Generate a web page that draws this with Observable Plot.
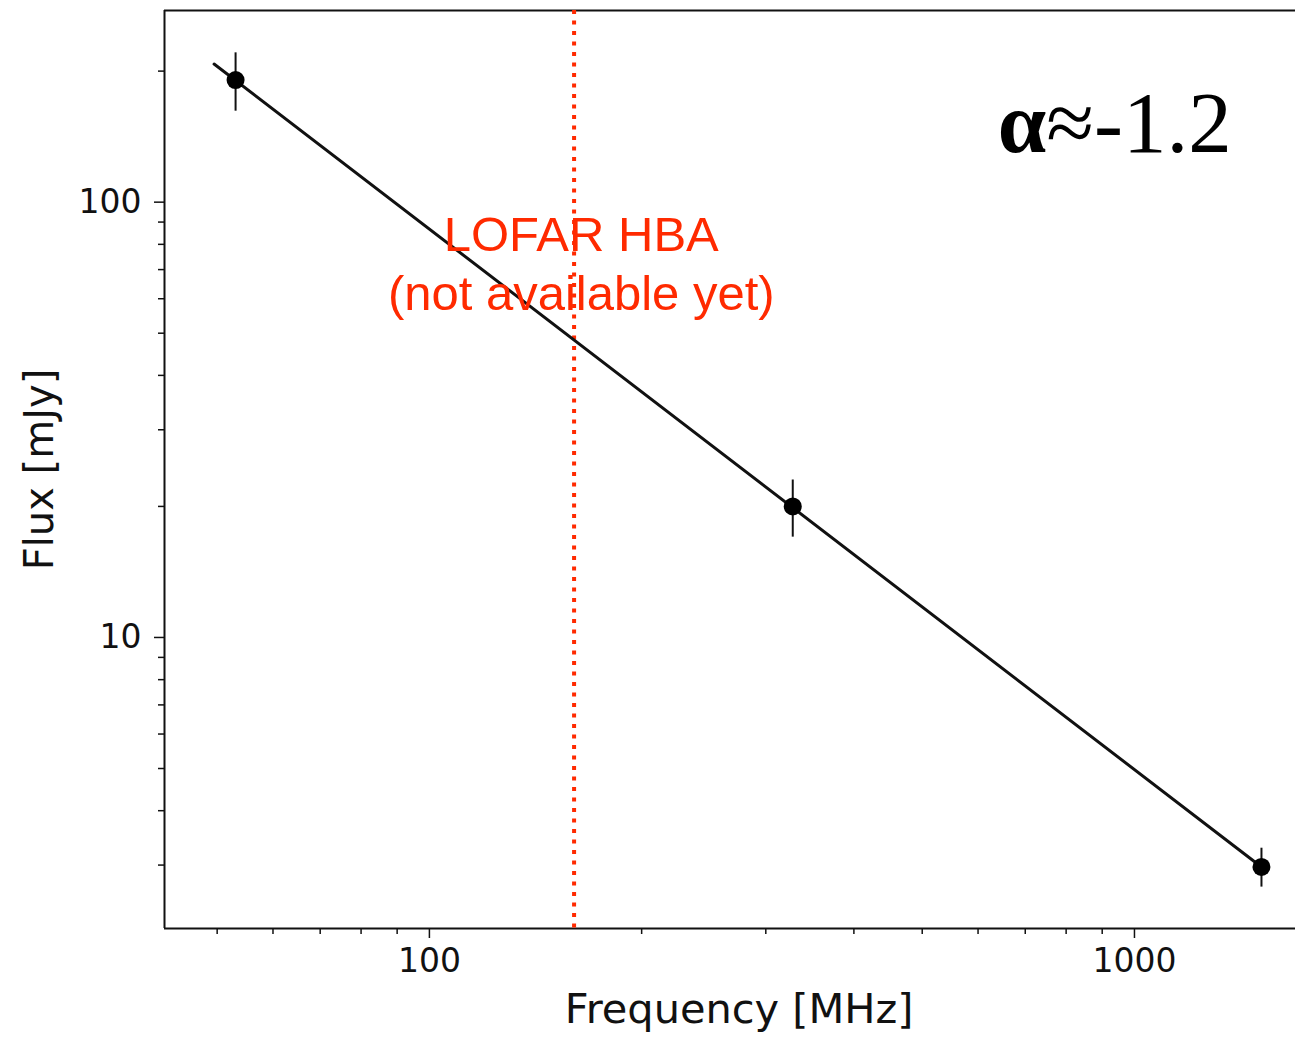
<!DOCTYPE html>
<html><head><meta charset="utf-8">
<script src="https://cdn.jsdelivr.net/npm/d3@7"></script>
<script src="https://cdn.jsdelivr.net/npm/@observablehq/plot@0.6"></script>
<style>html,body{margin:0;padding:0;background:#fff;overflow:hidden;}</style>
</head><body><div id="chart"></div>
<script>
// measured data (MHz, mJy)
const freq = [53.1, 327.6, 1514];
const flux = [190.7, 20.0, 2.97];
const fluxLow = [161.8, 17.0, 2.67];
const fluxHigh = [220.3, 23.0, 3.28];
// power-law fit line end points
const fitFreq = [49.5, 1514];
const fitFlux = [207.6, 2.97];
// LOFAR HBA frequency marker
const hbaFreq = [160.4];
const hbaLabel = ["LOFAR HBA\n(not available yet)"];
const hbaLabelPos = [164.2, 96.4];
const alphaLabel = ["α", "≈-1.2"];
const alphaPos = [750, 181];
// scales / ticks
const xDomain = [42.1, 1692];
const yDomain = [2.145, 275.6];
const xMajor = [100, 1000];
const xMinor = [50, 60, 70, 80, 90, 200, 300, 400, 500, 600, 700, 800, 900];
const yMajor = [10, 100];
const yMinor = [3, 4, 5, 6, 7, 8, 9, 20, 30, 40, 50, 60, 70, 80, 90, 200];
const xLabel = "Frequency [MHz]";
const yLabel = "Flux [mJy]";
const xLabelPos = 275;

const points = freq.map((f, i) => ({f, s: flux[i], lo: fluxLow[i], hi: fluxHigh[i]}));
const fit = fitFreq.map((f, i) => ({f, s: fitFlux[i]}));
const red = "#ff2a00";
const ink = "#111";

const chart = Plot.plot({
  width: 1295,
  height: 1037,
  marginLeft: 164,
  marginRight: 0,
  marginTop: 10,
  marginBottom: 109,
  style: {fontFamily: "DejaVu Sans", background: "#fff", overflow: "visible"},
  x: {type: "log", domain: xDomain},
  y: {type: "log", domain: yDomain},
  marks: [
    Plot.axisX(xMajor, {tickSize: 10, tickPadding: 10, tickFormat: d => String(d), fontSize: 33, label: null, stroke: ink, strokeWidth: 1.5, fill: ink}),
    Plot.axisX(xMinor, {tickSize: 6, tickFormat: () => "", label: null, stroke: ink, strokeWidth: 1.5}),
    Plot.axisY(yMajor, {tickSize: 10, tickPadding: 13, tickFormat: d => String(d), fontSize: 33, label: null, stroke: ink, strokeWidth: 1.5, fill: ink}),
    Plot.axisY(yMinor, {tickSize: 6, tickFormat: () => "", label: null, stroke: ink, strokeWidth: 1.5}),
    Plot.ruleX([xDomain[0]], {stroke: ink, strokeWidth: 2}),
    Plot.ruleY(yDomain, {stroke: ink, strokeWidth: 2}),
    Plot.ruleX(hbaFreq, {stroke: red, strokeWidth: 4, strokeDasharray: "4,6.5"}),
    Plot.line(fit, {x: "f", y: "s", stroke: ink, strokeWidth: 3}),
    Plot.ruleX(points, {x: "f", y1: "lo", y2: "hi", stroke: ink, strokeWidth: 2}),
    Plot.dot(points, {x: "f", y: "s", r: 9, fill: "#000", stroke: "none"}),
    Plot.text(hbaLabel, {x: hbaLabelPos[0], y: hbaLabelPos[1], text: d => d, fill: red, fontSize: 49, fontFamily: "Liberation Sans", lineAnchor: "top", lineHeight: 1.2, textAnchor: "middle"}),
    Plot.text([alphaLabel[0]], {x: alphaPos[0], y: alphaPos[1], text: d => d, fill: "#000", fontSize: 87, fontWeight: "bold", fontFamily: "Liberation Serif", lineAnchor: "top", textAnchor: "end"}),
    Plot.text([alphaLabel[1]], {x: alphaPos[0], y: alphaPos[1], text: d => d, fill: "#000", fontSize: 87, fontFamily: "Liberation Serif", lineAnchor: "top", textAnchor: "start"}),
    Plot.text([xLabel], {x: xLabelPos, frameAnchor: "bottom", text: d => d, dy: 65, lineAnchor: "top", textAnchor: "middle", fontSize: 41.5, fill: ink}),
    Plot.text([yLabel], {frameAnchor: "left", text: d => d, dx: -124, rotate: -90, lineAnchor: "middle", textAnchor: "middle", fontSize: 40, fill: ink})
  ]
});
document.getElementById("chart").appendChild(chart);
</script>
</body></html>
